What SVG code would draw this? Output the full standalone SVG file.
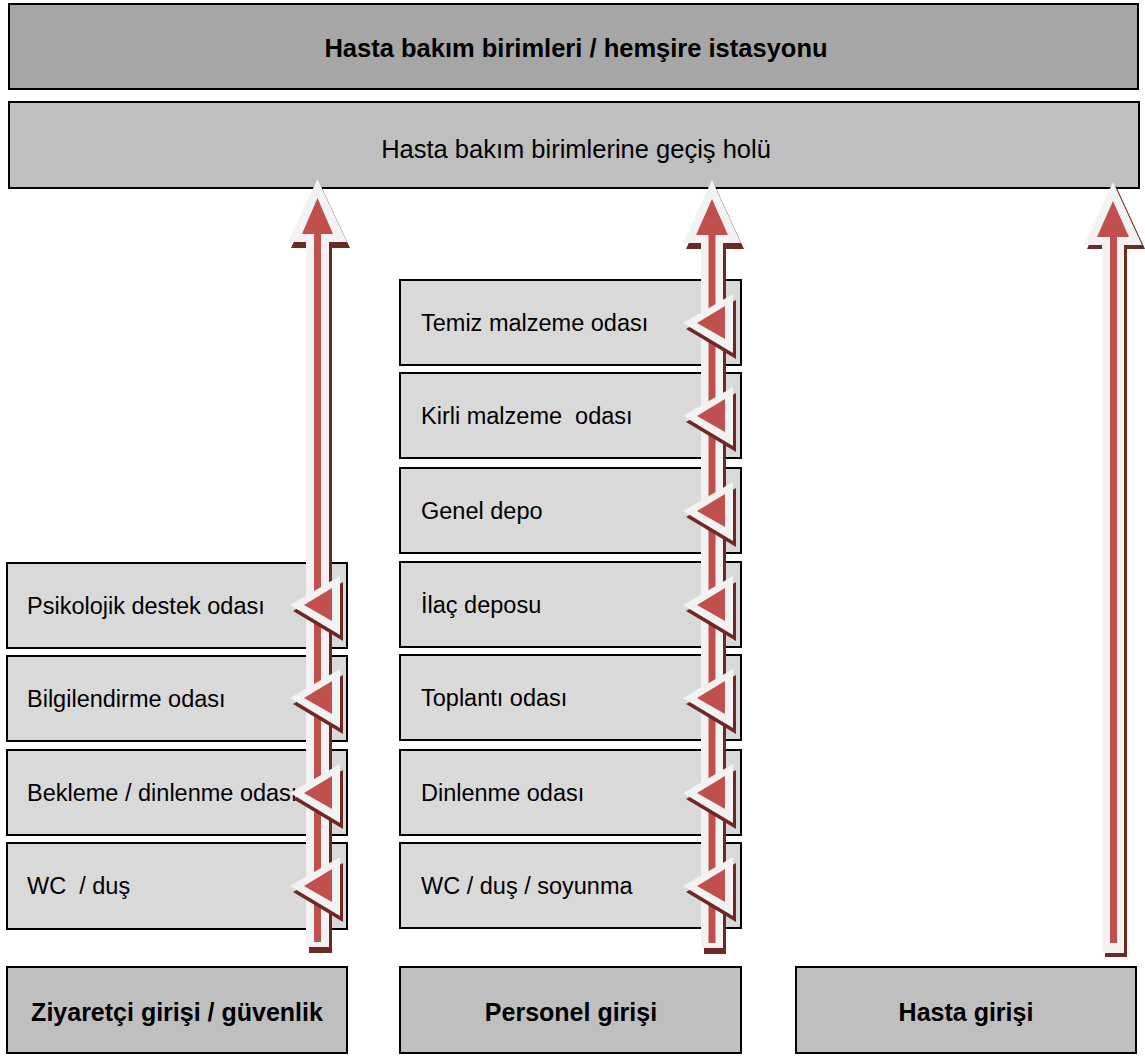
<svg xmlns="http://www.w3.org/2000/svg" width="1145" height="1057" viewBox="0 0 1145 1057">
<defs>
<style>
.box{stroke:#000;stroke-width:2}
.room{fill:#D9D9D9}
.gate{fill:#BFBFBF}
.t{font-family:"Liberation Sans",Arial,sans-serif;font-size:23.5px;fill:#000;white-space:pre}
.b{font-weight:bold;font-size:25px}
.wht{fill:#F2F2F2}
.red{fill:#C0504D}
.shd{fill:#6E2927}
</style>
<g id="tri">
<polygon class="shd" points="-47,6 3,-23 3,36"/>
<polygon class="wht" points="-50,0 0,-29 0,30"/>
<polygon class="red" points="-36,0 -8,-17 -8,16"/>
</g>
</defs>
<rect width="1145" height="1057" fill="#fff"/>

<g id="n-top"><rect class="box" x="9" y="4" width="1129" height="85" fill="#A6A6A6"/><text class="t b" x="576" y="57" text-anchor="middle" style="font-size:25.5px">Hasta bakım birimleri / hemşire istasyonu</text></g>
<g id="n-hall"><rect class="box" x="9" y="102" width="1130" height="86" fill="#BFBFBF"/><text class="t" x="576" y="158" text-anchor="middle" style="font-size:25.5px">Hasta bakım birimlerine geçiş holü</text></g>

<g id="n-temiz"><rect class="box room" x="400" y="280" width="341" height="85"/><text class="t" x="421" y="331">Temiz malzeme odası</text></g>
<g id="n-kirli"><rect class="box room" x="400" y="373" width="341" height="85"/><text class="t" x="421" y="424" xml:space="preserve">Kirli malzeme  odası</text></g>
<g id="n-genel"><rect class="box room" x="400" y="468" width="341" height="85"/><text class="t" x="421" y="519">Genel depo</text></g>
<g id="n-ilac"><rect class="box room" x="400" y="562" width="341" height="85"/><text class="t" x="421" y="613">İlaç deposu</text></g>
<g id="n-toplanti"><rect class="box room" x="400" y="655" width="341" height="85"/><text class="t" x="421" y="706">Toplantı odası</text></g>
<g id="n-dinlenme"><rect class="box room" x="400" y="750" width="341" height="85"/><text class="t" x="421" y="801">Dinlenme odası</text></g>
<g id="n-wc2"><rect class="box room" x="400" y="843" width="341" height="85"/><text class="t" x="421" y="894">WC / duş / soyunma</text></g>

<g id="n-psiko"><rect class="box room" x="7" y="563" width="340" height="85"/><text class="t" x="27" y="614">Psikolojik destek odası</text></g>
<g id="n-bilgi"><rect class="box room" x="7" y="656" width="340" height="85"/><text class="t" x="27" y="707">Bilgilendirme odası</text></g>
<g id="n-bekleme"><rect class="box room" x="7" y="750" width="340" height="85"/><text class="t" x="27" y="801">Bekleme / dinlenme odası</text></g>
<g id="n-wc1"><rect class="box room" x="7" y="843" width="340" height="86"/><text class="t" x="27" y="894" xml:space="preserve">WC  / duş</text></g>

<g id="n-ziyaretci"><rect class="box gate" x="7" y="967" width="340" height="86"/><text class="t b" x="177" y="1021" text-anchor="middle">Ziyaretçi girişi / güvenlik</text></g>
<g id="n-personel"><rect class="box gate" x="400" y="967" width="341" height="86"/><text class="t b" x="571" y="1021" text-anchor="middle">Personel girişi</text></g>
<g id="n-hasta"><rect class="box gate" x="796" y="967" width="340" height="86"/><text class="t b" x="966" y="1021" text-anchor="middle">Hasta girişi</text></g>

<g id="connectors">
<g id="arrow-left">
<path class="shd" transform="translate(3,6)" d="M317.5,179 L347,242 L329,242 L329,947 L306,947 L306,242 L288,242 Z"/>
<path class="wht" d="M317.5,179 L347,242 L329,242 L329,947 L306,947 L306,242 L288,242 Z"/>
<path class="red" d="M317.5,198 L333,234 L321,234 L321,942 L314,942 L314,234 L302,234 Z"/>
</g>
<g id="arrow-mid">
<path class="shd" transform="translate(3,6)" d="M712,180 L741,243 L723,243 L723,948 L701,948 L701,243 L683,243 Z"/>
<path class="wht" d="M712,180 L741,243 L723,243 L723,948 L701,948 L701,243 L683,243 Z"/>
<path class="red" d="M712,199 L728,235 L715.5,235 L715.5,943 L708.5,943 L708.5,235 L696,235 Z"/>
</g>
<g id="arrow-right">
<path class="shd" transform="translate(3,4)" d="M1113,182 L1142,245 L1124,245 L1124,953 L1102,953 L1102,245 L1084,245 Z"/>
<path class="wht" d="M1113,182 L1142,245 L1124,245 L1124,953 L1102,953 L1102,245 L1084,245 Z"/>
<path class="red" d="M1113,201 L1129,237 L1117,237 L1117,943 L1110,943 L1110,237 L1097,237 Z"/>
</g>
<use href="#tri" x="733" y="323"/>
<use href="#tri" x="733" y="416"/>
<use href="#tri" x="733" y="511"/>
<use href="#tri" x="733" y="605"/>
<use href="#tri" x="733" y="698"/>
<use href="#tri" x="733" y="793"/>
<use href="#tri" x="733" y="886"/>
<use href="#tri" x="340" y="605"/>
<use href="#tri" x="340" y="698"/>
<use href="#tri" x="340" y="793"/>
<use href="#tri" x="340" y="886"/>
</g>
</svg>
